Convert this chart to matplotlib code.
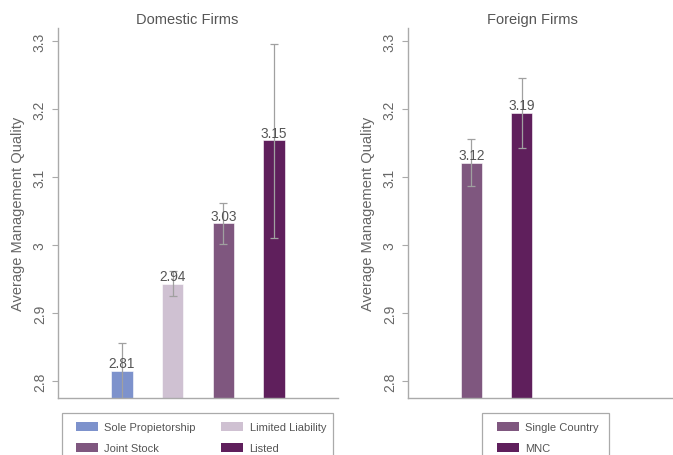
import matplotlib
matplotlib.use('Agg')
import matplotlib.pyplot as plt
from matplotlib.patches import Patch, Rectangle

# Données
dom_labels = ['Sole Propietorship', 'Limited Liability', 'Joint Stock', 'Listed']
dom_values = [2.815, 2.943, 3.032, 3.154]
dom_err_low = [2.774, 2.925, 3.001, 3.010]
dom_err_high = [2.856, 2.961, 3.061, 3.296]
dom_text = ['2.81', '2.94', '3.03', '3.15']

for_labels = ['Single Country', 'MNC']
for_values = [3.121, 3.194]
for_err_low = [3.086, 3.143]
for_err_high = [3.156, 3.245]
for_text = ['3.12', '3.19']

dom_colors = ['#7d92cc', '#cfc1d2', '#7f577f', '#5f1f5c']
for_colors = ['#7f577f', '#5f1f5c']

plt.rcParams['font.family'] = ['Liberation Sans', 'DejaVu Sans']
grey = '#aaaaaa'
txt = '#555555'

fig = plt.figure(figsize=(6.73, 4.56), dpi=100)
W, H = 673.0, 456.0


def draw_panel(ax, values, lo, hi, texts, colors, xlim):
    xs = list(range(1, len(values) + 1))
    ax.bar(xs, values, width=0.42, bottom=0, color=colors,
           edgecolor='white', linewidth=0.4, zorder=2)
    yerr = [[v - l for v, l in zip(values, lo)], [h - v for v, h in zip(values, hi)]]
    ax.errorbar(xs, values, yerr=yerr, fmt='none', ecolor='#a0a0a0',
                elinewidth=0.9, capsize=2.8, capthick=0.9, zorder=3)
    for x, v, t in zip(xs, values, texts):
        ax.text(x, v + 0.001, t, ha='center', va='bottom', fontsize=9.8,
                color=txt, zorder=4)
    ax.set_ylim(2.775, 3.319)
    ax.set_xlim(*xlim)
    ax.set_yticks([2.8, 2.9, 3.0, 3.1, 3.2, 3.3])
    ax.set_yticklabels(['2.8', '2.9', '3', '3.1', '3.2', '3.3'],
                       rotation=90, va='center', fontsize=10, color='#666666')
    ax.set_xticks([])
    for s in ['top', 'right']:
        ax.spines[s].set_visible(False)
    for s in ['left', 'bottom']:
        ax.spines[s].set_color(grey)
        ax.spines[s].set_linewidth(1.0)
    ax.tick_params(axis='y', length=4, width=0.8, color=grey, pad=4)
    ax.set_ylabel('Average Management Quality', fontsize=10.5, color='#666666',
                  labelpad=6)


ax1 = fig.add_axes([58 / W, 1 - 399 / H, 280 / W, 370 / H])
draw_panel(ax1, dom_values, dom_err_low, dom_err_high, dom_text, dom_colors,
           (-0.26, 5.26))
ax2 = fig.add_axes([408 / W, 1 - 399 / H, 265 / W, 370 / H])
draw_panel(ax2, for_values, for_err_low, for_err_high, for_text, for_colors,
           (-0.27, 5.03))

fig.text(187 / W, 1 - 20 / H, 'Domestic Firms', ha='center', va='center',
         fontsize=10.5, color=txt)
fig.text(532 / W, 1 - 20 / H, 'Foreign Firms', ha='center', va='center',
         fontsize=10.5, color=txt)


# Légendes : cadre dessiné à part, texte placé sans cadre
def add_legend(handles, labels, ncol, box_x0, box_x1, hx, width):
    fig.patches.append(Rectangle((box_x0 / W, -0.05), (box_x1 - box_x0) / W,
                                 1 - 414 / H + 0.05, transform=fig.transFigure,
                                 facecolor='white', edgecolor=grey,
                                 linewidth=0.9, zorder=0))
    leg = fig.legend(handles, labels, loc='upper left', ncol=ncol,
                     mode='expand',
                     bbox_to_anchor=(hx / W, 1 - 423 / H - 0.1, width / W, 0.1),
                     fontsize=8, frameon=False, borderpad=0,
                     labelspacing=0.95, handlelength=1.95, handleheight=0.9,
                     handletextpad=0.6, borderaxespad=0)
    for t in leg.get_texts():
        t.set_color(txt)
    return leg


order = [0, 2, 1, 3]  # ordre par ligne
add_legend([Patch(facecolor=dom_colors[i], edgecolor='none') for i in order],
           [dom_labels[i] for i in order], 2, 62, 333, 76, 250)
add_legend([Patch(facecolor=c, edgecolor='none') for c in for_colors],
           for_labels, 1, 482, 609, 497, 100)

fig.savefig('out.png', dpi=100)
